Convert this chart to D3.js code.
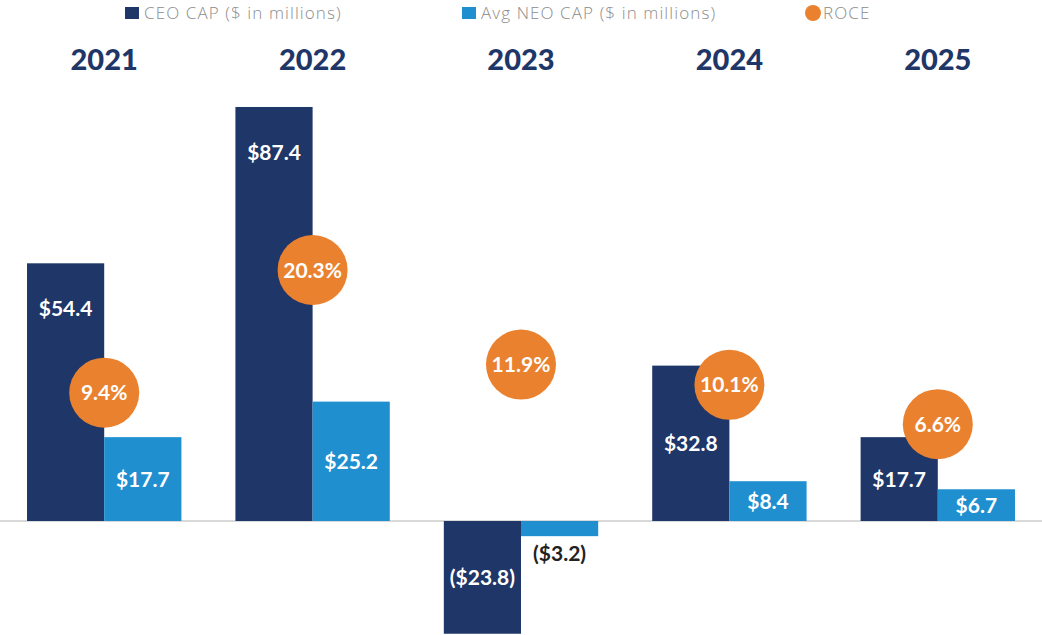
<!DOCTYPE html>
<head>
    <meta charset="utf-8">
    <script src="https://cdn.jsdelivr.net/npm/d3@7"></script>
    <style>
        body { margin: 0; background: #fff; }
        svg { display: block; font-family: Lato, "Open Sans", sans-serif; }
    </style>
</head>
<body>
<svg width="1042" height="635"></svg>
<script type="text/javascript">
    var svg = d3.select("svg"),
            width = +svg.attr("width"),
            height = +svg.attr("height");
    var baseline = 521;

    // values
    var years = ["2021", "2022", "2023", "2024", "2025"];
    var ceoCap = [54.4, 87.4, -23.8, 32.8, 17.7];
    var neoCap = [17.7, 25.2, -3.2, 8.4, 6.7];
    var roce = [9.4, 20.3, 11.9, 10.1, 6.6];
    var seriesNames = ["CEO CAP ($ in millions)", "Avg NEO CAP ($ in millions)", "ROCE"];

    var navy = "#1f3668", blue = "#1f8fd0", orange = "#ea812e";

    var x0 = d3.scaleBand().domain(years).range([0, width]).padding(0);
    var x1 = d3.scaleBand().domain(["ceo", "neo"])
            .range([0, x0.bandwidth()]).paddingInner(0).paddingOuter(0.35);
    var y = d3.scaleLinear().domain([0, 90]).range([baseline, baseline - 90 * 4.737]);
    var yR = d3.scaleLinear().domain([-2, 20.3]).range([baseline, 270]);

    var rows = years.map(function (yr, i) {
        return {year: yr, ceo: ceoCap[i], neo: neoCap[i], roce: roce[i]};
    });

    function money(v) {
        return v < 0 ? "($" + Math.abs(v).toFixed(1) + ")" : "$" + v.toFixed(1);
    }

    // baseline
    svg.append("line")
            .attr("x1", 0).attr("x2", width)
            .attr("y1", y(0)).attr("y2", y(0))
            .attr("stroke", "#d9d9d9").attr("stroke-width", 2);

    var groups = svg.selectAll("g.year")
            .data(rows)
            .enter()
            .append("g")
            .attr("class", "year")
            .attr("transform", function (d) {
                return "translate(" + x0(d.year) + ",0)";
            });

    var bars = groups.selectAll("g.bar")
            .data(function (d) {
                return [{key: "ceo", v: d.ceo}, {key: "neo", v: d.neo}];
            })
            .enter()
            .append("g").attr("class", "bar");

    bars.append("rect")
            .attr("x", function (d) { return x1(d.key); })
            .attr("width", x1.bandwidth())
            .attr("y", function (d) { return Math.min(y(d.v), y(0)); })
            .attr("height", function (d) { return Math.abs(y(d.v) - y(0)); })
            .attr("fill", function (d) { return d.key === "ceo" ? navy : blue; });

    bars.append("text")
            .text(function (d) { return money(d.v); })
            .attr("x", function (d) { return x1(d.key) + x1.bandwidth() / 2; })
            .attr("y", function (d) {
                var h = Math.abs(y(d.v) - y(0));
                if (h < 25) return d.v < 0 ? y(d.v) + 17 : y(d.v) - 17;
                if (h > 200) return y(d.v) + 45;
                return (y(d.v) + y(0)) / 2;
            })
            .attr("dy", "0.36em")
            .attr("text-anchor", "middle")
            .attr("font-size", 21)
            .attr("font-weight", 700)
            .attr("fill", function (d) {
                return Math.abs(y(d.v) - y(0)) < 25 ? "#222" : "#fff";
            });

    // ROCE dots
    groups.append("circle")
            .attr("cx", x0.bandwidth() / 2)
            .attr("cy", function (d) { return yR(d.roce); })
            .attr("r", 35)
            .attr("fill", orange);
    groups.append("text")
            .text(function (d) { return d.roce.toFixed(1) + "%"; })
            .attr("x", x0.bandwidth() / 2)
            .attr("y", function (d) { return yR(d.roce); })
            .attr("dy", "0.36em")
            .attr("text-anchor", "middle")
            .attr("font-size", 21)
            .attr("font-weight", 700)
            .attr("fill", "#fff");

    // year headings
    groups.append("text")
            .text(function (d) { return d.year; })
            .attr("x", x0.bandwidth() / 2)
            .attr("y", 60)
            .attr("dy", "0.36em")
            .attr("text-anchor", "middle")
            .attr("font-size", 29)
            .attr("font-weight", 900)
            .attr("fill", navy);

    // legend along the top edge
    var legendX = [125, 462, 805];
    var legend = svg.selectAll("g.legend")
            .data(seriesNames)
            .enter()
            .append("g")
            .attr("class", "legend")
            .attr("transform", function (d, i) { return "translate(" + legendX[i] + ",13)"; });
    legend.append("path")
            .attr("d", function (d, i) {
                return i < 2 ? "M0,-6h14v12h-14z" : d3.symbol(d3.symbolCircle, 200)();
            })
            .attr("transform", function (d, i) { return i < 2 ? null : "translate(8,0)"; })
            .attr("fill", function (d, i) { return [navy, blue, orange][i]; });
    legend.append("text")
            .text(function (d) { return d; })
            .attr("x", function (d, i) { return i < 2 ? 19 : 18; })
            .attr("dy", "0.36em")
            .attr("font-family", "'Open Sans', sans-serif")
            .attr("font-size", 17)
            .attr("font-weight", 300)
            .attr("letter-spacing", 1.1)
            .attr("fill", "#8c8c8c");
</script>
</body>
</html>
